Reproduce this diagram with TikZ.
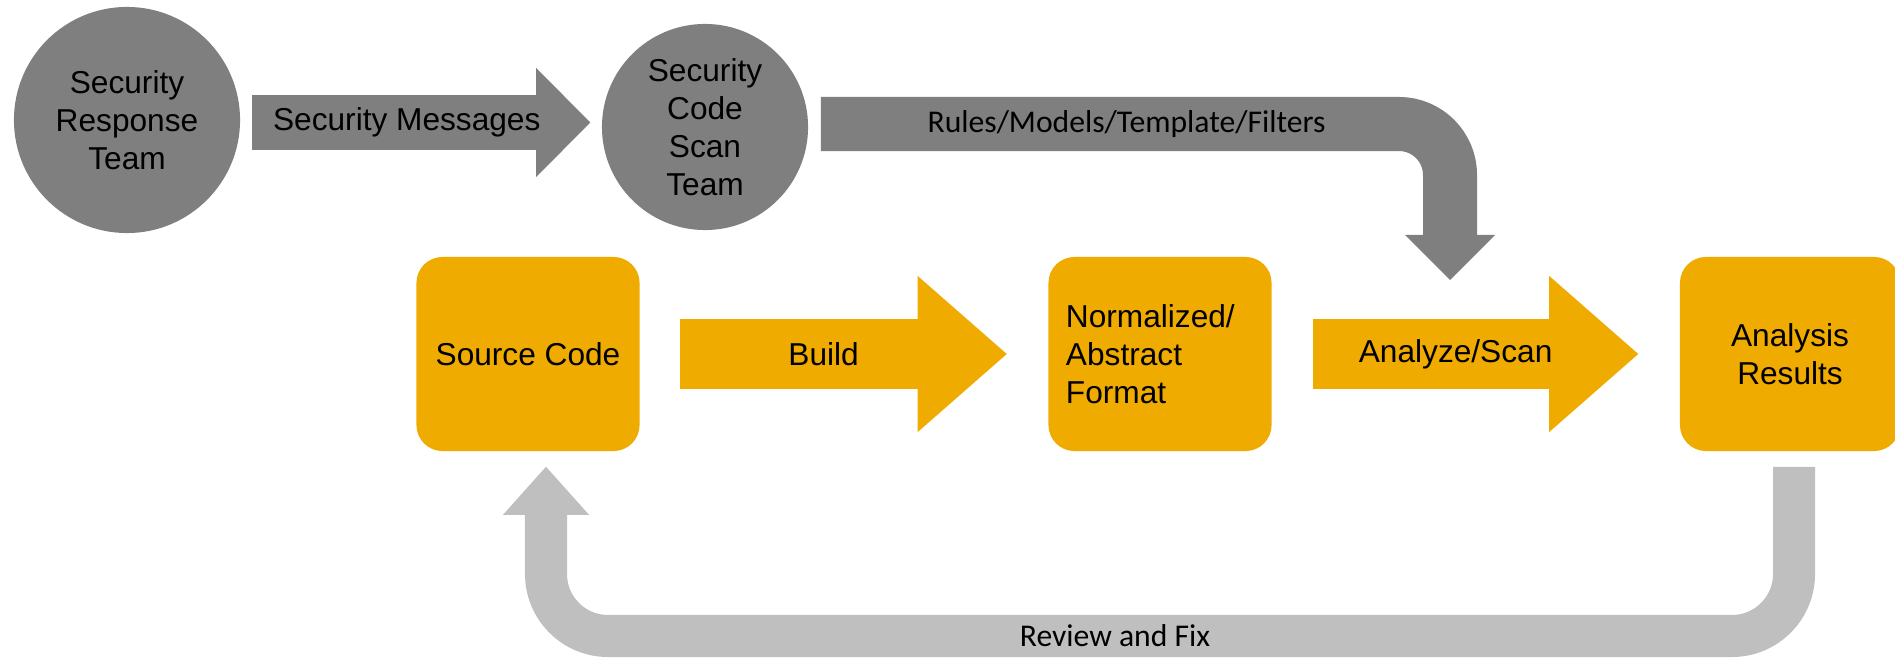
\documentclass[tikz,border=0pt]{standalone}
\usepackage{fontspec}
\setmainfont{Liberation Sans}
\newfontfamily\calibri{Carlito}
\usetikzlibrary{arrows.meta, calc}

\definecolor{darkgrey}{HTML}{7F7F7F}
\definecolor{lightgrey}{HTML}{BFBFBF}
\definecolor{gold}{HTML}{F0AB00}

\tikzstyle{team} = [
    circle,
    fill=darkgrey,
    inner sep=0pt,
    align=center,
    font=\fontsize{9}{10.8}\selectfont
]
\tikzstyle{stage} = [
    rectangle,
    rounded corners=0.26cm,
    minimum width=2.23cm,
    minimum height=1.94cm,
    fill=gold,
    align=center,
    font=\fontsize{9}{10.8}\selectfont
]
\tikzstyle{greyflow} = [
    draw=darkgrey,
    line width=0.55cm,
    -{Triangle[width=1.09cm,length=0.54cm,line width=0pt]}
]
\tikzstyle{ruleflow} = [
    draw=darkgrey,
    line width=0.54cm,
    rounded corners=0.51cm,
    -{Triangle[width=0.9cm,length=0.45cm,line width=0pt]}
]
\tikzstyle{goldflow} = [
    draw=gold,
    line width=0.70cm,
    -{Triangle[width=1.56cm,length=0.89cm,line width=0pt]}
]
\tikzstyle{fixflow} = [
    draw=lightgrey,
    line width=0.42cm,
    rounded corners=0.62cm,
    -{Triangle[width=0.86cm,length=0.48cm,line width=0pt]}
]
\tikzstyle{flowtext} = [font=\fontsize{9}{10.8}\selectfont]
\tikzstyle{smalltext} = [font=\calibri\fontsize{9}{10.8}\selectfont]

\begin{document}
\begin{tikzpicture}[x=0.01cm, y=-0.01cm]

\useasboundingbox (0,0) rectangle (1895,658);

\node (srt) [team, minimum size=2.26cm] at (127,120)
{Security\\Response\\Team};

\node (scs) [team, minimum size=2.06cm] at (705,127)
{Security\\Code\\Scan\\Team};

\node (src) [stage] at (528,354) {Source Code};

\node (norm) [stage, text width=1.88cm, align=left] at (1160,354)
{Normalized/\\Abstract\\Format};

\node (res) [stage, minimum width=2.2cm] at (1790,354)
{Analysis\\Results};

\coordinate (rulestip) at (1450,280);
\coordinate (fix) at (1115,636);

\draw [greyflow] ($(srt.east)+(11,2.5)$) -- ($(srt.east -| scs.west)+(-11,2.5)$)
    node (msglbl) [flowtext, pos=0.458] {Security Messages};
\draw [ruleflow] ($(scs.east)+(12,-3)$) -| (rulestip)
    node (rulelbl) [smalltext, pos=0.243] {Rules/Models/Template/Filters};
\draw [goldflow] ($(src.east)+(40,0)$) -- ($(norm.west)+(-41,0)$)
    node (buildlbl) [flowtext, pos=0.439] {Build};
\draw [goldflow] ($(norm.east)+(41,0)$) -- ($(res.west)+(-41,0)$)
    node (scanlbl) [flowtext, pos=0.438] {Analyze/Scan};
\draw [fixflow] ($(res.south)+(4,15)$) |- (fix)
    node (fixlbl) [smalltext] {Review and Fix} -| ($(src.south)+(18,15)$);

\end{tikzpicture}
\end{document}
